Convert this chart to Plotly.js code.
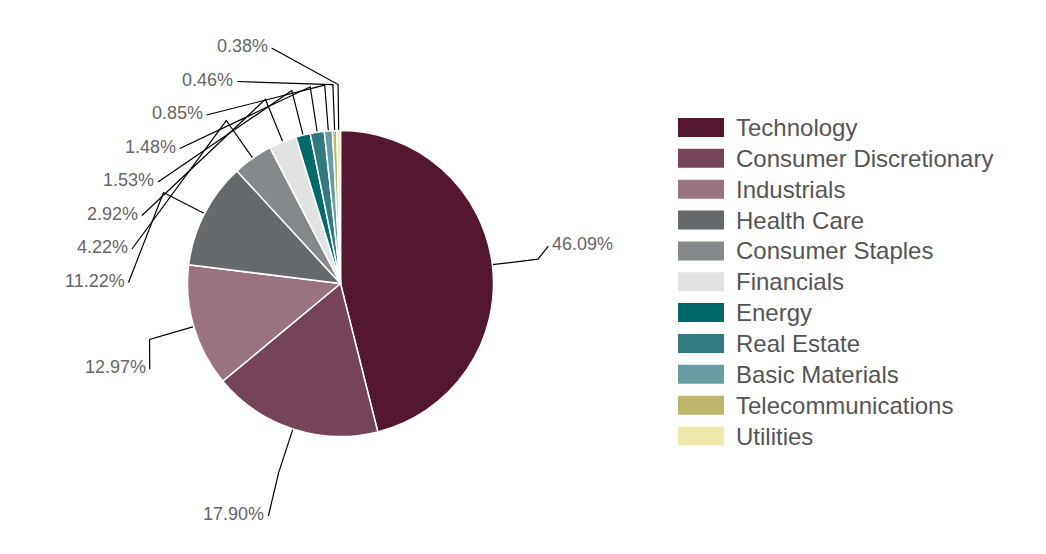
<!DOCTYPE html>
<html>
<head>
<meta charset="utf-8">
<script src="https://cdn.plot.ly/plotly-3.0.1.min.js"></script>
<style>
  html, body { margin: 0; padding: 0; background: #ffffff; }
  #chart { width: 1046px; height: 554px; }
</style>
</head>
<body>
<div id="chart"></div>
<script>
// sector weights, in %
var sectors = ['Technology', 'Consumer Discretionary', 'Industrials', 'Health Care',
  'Consumer Staples', 'Financials', 'Energy', 'Real Estate', 'Basic Materials',
  'Telecommunications', 'Utilities'];
var weights = [46.09, 17.90, 12.97, 11.22, 4.22, 2.92, 1.53, 1.48, 0.85, 0.46, 0.38];
var sectorColors = ['#541730', '#764459', '#99737f', '#676a6d', '#86898b', '#e1e2e2',
  '#006a6a', '#337a80', '#689ca3', '#bcb66d', '#eee8aa'];

var W = 1046, H = 554;
var cx = 340.5, cy = 283.5, R = 153;

// label placement settings
var bendR = R + 46;       // where the connector breaks
var labelRy = 305;        // natural label height radius
var labelRx = 212;        // horizontal reach of labels
var arcScale = 190;
var gap = 33.5;           // min vertical distance between labels
var labelTop = 48, labelBottom = 516;

function fmt(v) { return v.toFixed(2) + '%'; }

// mid angle of every slice, clockwise from 12 o'clock
var total = weights.reduce(function (a, b) { return a + b; }, 0);
var mids = [];
var acc = 0;
weights.forEach(function (w) {
  mids.push((acc + w / 2) / total * 2 * Math.PI);
  acc += w;
});

// spread the labels on each side so they don't overlap
function distribute(idx) {
  var items = idx.map(function (i) {
    return { i: i, target: cy - labelRy * Math.cos(mids[i]) };
  });
  items.sort(function (a, b) { return a.target - b.target; });
  var boxes = items.map(function (it) { return { items: [it] }; });
  var overlapping = true;
  while (overlapping) {
    boxes.forEach(function (b) {
      var t = b.items.map(function (it) { return it.target; });
      var c = (Math.min.apply(0, t) + Math.max.apply(0, t)) / 2;
      var n = b.items.length;
      var p = c - (n - 1) * gap / 2;
      b.pos = Math.max(labelTop, Math.min(labelBottom - (n - 1) * gap, p));
    });
    overlapping = false;
    for (var k = boxes.length - 1; k > 0; k--) {
      var prev = boxes[k - 1];
      if (prev.pos + prev.items.length * gap > boxes[k].pos) {
        prev.items = prev.items.concat(boxes[k].items);
        boxes.splice(k, 1);
        overlapping = true;
      }
    }
  }
  var out = {};
  boxes.forEach(function (b) {
    b.items.forEach(function (it, j) { out[it.i] = b.pos + j * gap; });
  });
  return out;
}

var leftIdx = [], rightIdx = [];
mids.forEach(function (a, i) {
  if (Math.sin(a) >= 0) rightIdx.push(i); else leftIdx.push(i);
});
var labelY = Object.assign({}, distribute(leftIdx), distribute(rightIdx));

var lineX = [], lineY = [];
var annotations = [];
mids.forEach(function (a, i) {
  var side = Math.sin(a) >= 0 ? 1 : -1;
  var ly = labelY[i];
  var lx = cx + side * labelRx * Math.cos((ly - cy) / arcScale);
  lineX.push(cx + R * Math.sin(a), cx + bendR * Math.sin(a), lx, null);
  lineY.push(cy - R * Math.cos(a), cy - bendR * Math.cos(a), ly, null);
  annotations.push({
    xref: 'x', yref: 'y',
    x: lx + side * 2, y: ly - 2,
    xanchor: side > 0 ? 'left' : 'right',
    yanchor: 'middle',
    text: fmt(weights[i]),
    showarrow: false,
    font: { family: 'Liberation Sans, Arial, sans-serif', size: 18, color: '#666666' }
  });
});

// legend drawn by hand: wide colour bars
var legendX = 678, legendW = 46, legendH = 19;
var legendTop = 127.5, legendGap = 30.85;
var shapes = [];
sectors.forEach(function (s, i) {
  var y = legendTop + i * legendGap;
  shapes.push({
    type: 'rect', xref: 'x', yref: 'y',
    x0: legendX, x1: legendX + legendW, y0: y - legendH / 2, y1: y + legendH / 2,
    fillcolor: sectorColors[i], line: { width: 0 }, layer: 'below'
  });
  annotations.push({
    xref: 'x', yref: 'y',
    x: legendX + legendW + 10, y: y,
    xanchor: 'left', yanchor: 'middle',
    text: s, showarrow: false,
    font: { family: 'Liberation Sans, Arial, sans-serif', size: 24, color: '#555555' }
  });
});

var data = [{
  type: 'scatter',
  mode: 'lines',
  x: lineX,
  y: lineY,
  line: { color: '#000000', width: 1.2 },
  hoverinfo: 'skip',
  showlegend: false
}, {
  type: 'pie',
  labels: sectors,
  values: weights,
  sort: false,
  direction: 'clockwise',
  rotation: 0,
  textinfo: 'none',
  hoverinfo: 'label+percent',
  marker: { colors: sectorColors, line: { color: '#ffffff', width: 1.5 } },
  domain: {
    x: [(cx - R) / W, (cx + R) / W],
    y: [(H - cy - R) / H, (H - cy + R) / H]
  },
  showlegend: false
}];

var layout = {
  width: W,
  height: H,
  margin: { l: 0, r: 0, t: 0, b: 0, pad: 0 },
  paper_bgcolor: '#ffffff',
  plot_bgcolor: 'rgba(0,0,0,0)',
  showlegend: false,
  xaxis: { range: [0, W], visible: false, fixedrange: true },
  yaxis: { range: [H, 0], visible: false, fixedrange: true },
  annotations: annotations,
  shapes: shapes
};

Plotly.newPlot('chart', data, layout, { displayModeBar: false, staticPlot: true });
</script>
</body>
</html>
